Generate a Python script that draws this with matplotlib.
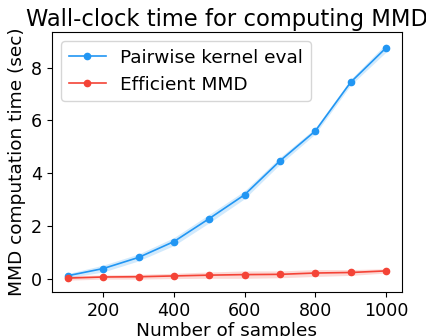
import matplotlib
matplotlib.use('Agg')
from matplotlib import pyplot as plt
import numpy as np

n_samples = [100, 200, 300, 400, 500, 600, 700, 800, 900, 1000]
pairwise = [0.13, 0.4, 0.82, 1.42, 2.29, 3.19, 4.47, 5.6, 7.44, 8.74]
pairwise_err = [0.08, 0.13, 0.13, 0.15, 0.16, 0.15, 0.13, 0.11, 0.11, 0.16]
efficient = [0.04, 0.08, 0.09, 0.12, 0.15, 0.17, 0.18, 0.23, 0.25, 0.31]
efficient_err = [0.08, 0.08, 0.09, 0.1, 0.12, 0.14, 0.13, 0.13, 0.11, 0.08]

blue = '#2196f3'
red = '#f44336'

fig = plt.figure(figsize=(4.27, 3.36), dpi=100)
ax = fig.add_axes([0.122, 0.131, 0.819, 0.774])

for ys, err, c, lab in [(pairwise, pairwise_err, blue, 'Pairwise kernel eval'),
                        (efficient, efficient_err, red, 'Efficient MMD')]:
    ys = np.array(ys)
    err = np.array(err)
    ax.plot(n_samples, ys, '-o', color=c, markersize=4.5, linewidth=1.2, label=lab)
    ax.fill_between(n_samples, ys - err, ys + err, color=c, alpha=0.2, linewidth=0)

ax.set_xticks([200, 400, 600, 800, 1000])
ax.set_yticks([0, 2, 4, 6, 8])
ax.tick_params(labelsize=12.6)
ax.set_title('Wall-clock time for computing MMD', fontsize=16.3, pad=4)
ax.set_xlabel('Number of samples', fontsize=13.3, labelpad=1.5)
ax.set_ylabel('MMD computation time (sec)', fontsize=13.3)
ax.legend(loc='upper left', fontsize=13.3)

fig.savefig('out.png', dpi=100)
